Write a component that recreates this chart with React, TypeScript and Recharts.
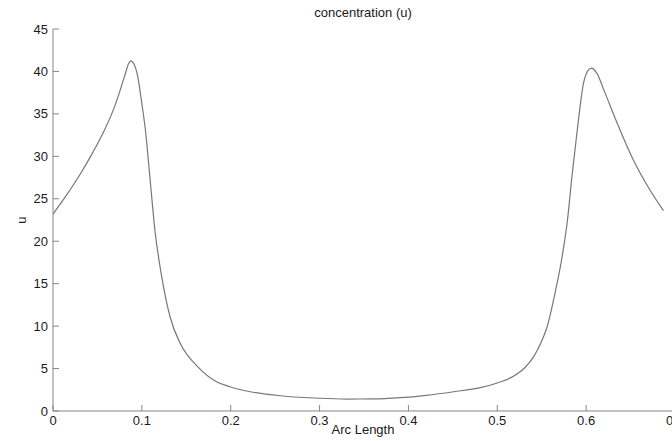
import React from 'react';
import { LineChart, Line, XAxis, YAxis } from 'recharts';

const arcLength = [0, 0.015, 0.03, 0.045, 0.057, 0.068, 0.075, 0.081, 0.085, 0.0875, 0.091, 0.095, 0.1, 0.104, 0.109, 0.1148, 0.1224, 0.1317, 0.143, 0.163, 0.184, 0.199, 0.222, 0.259, 0.3, 0.331, 0.36, 0.391, 0.42, 0.451, 0.481, 0.5, 0.52, 0.531, 0.541, 0.549, 0.556, 0.565, 0.573, 0.579, 0.584, 0.59, 0.597, 0.602, 0.606, 0.612, 0.62, 0.635, 0.653, 0.672, 0.687];
const concentration = [23.2, 25.4, 27.8, 30.5, 32.9, 35.5, 37.6, 39.6, 40.9, 41.25, 40.9, 39.6, 36.2, 33.1, 27.6, 21.2, 15.8, 11.1, 8.0, 5.2, 3.45, 2.86, 2.27, 1.77, 1.5, 1.41, 1.42, 1.57, 1.85, 2.27, 2.75, 3.3, 4.2, 5.1, 6.4, 8.0, 9.9, 13.9, 18.2, 22.5, 27.6, 33.1, 38.6, 40.1, 40.4, 39.8, 37.8, 33.9, 29.6, 26.0, 23.6];
const xTicks = [0, 0.1, 0.2, 0.3, 0.4, 0.5, 0.6, 0.7];
const yTicks = [0, 5, 10, 15, 20, 25, 30, 35, 40, 45];

const data = arcLength.map((x, i) => ({ x, u: concentration[i] }));

const FONT = '"Liberation Sans", Arial, Helvetica, sans-serif';
const AXIS = '#858585';
const TXT = '#1a1a1a';

const XTick = (props: any) => {
  const { x, y, payload } = props;
  return (
    <g>
      <line x1={x} y1={y} x2={x} y2={y - 6} stroke={AXIS} strokeWidth={1} />
      <text x={x} y={y + 14} textAnchor="middle" fontFamily={FONT} fontSize={13} fill={TXT}>
        {String(payload.value)}
      </text>
    </g>
  );
};

const YTick = (props: any) => {
  const { x, y, payload } = props;
  return (
    <g>
      <line x1={x} y1={y} x2={x + 6} y2={y} stroke={AXIS} strokeWidth={1} />
      <text x={x - 5} y={y + 4.5} textAnchor="end" fontFamily={FONT} fontSize={13} fill={TXT}>
        {String(payload.value)}
      </text>
    </g>
  );
};

export default function App() {
  return (
    <div style={{ position: 'fixed', left: 0, top: 0, width: 672, height: 441, overflow: 'hidden', background: '#fff' }}>
      <LineChart width={690} height={441} data={data} margin={{ top: 29, right: 15, bottom: 0, left: 0 }}>
        <XAxis
          dataKey="x"
          type="number"
          domain={[0, 0.7]}
          ticks={xTicks}
          height={30}
          tickSize={0}
          tickMargin={0}
          tickLine={false}
          tick={<XTick />}
          stroke={AXIS}
          interval={0}
          allowDataOverflow
        />
        <YAxis
          type="number"
          domain={[0, 45]}
          ticks={yTicks}
          width={53}
          tickSize={0}
          tickMargin={0}
          tickLine={false}
          tick={<YTick />}
          stroke={AXIS}
          interval={0}
          allowDataOverflow
        />
        <Line
          type="monotone"
          dataKey="u"
          stroke="#777777"
          strokeWidth={1.2}
          dot={false}
          isAnimationActive={false}
        />
      </LineChart>
      <div style={{ position: 'absolute', left: 263, width: 200, top: 5, textAlign: 'center', fontFamily: FONT, fontSize: 13, color: TXT, lineHeight: '16px' }}>
        concentration (u)
      </div>
      <div style={{ position: 'absolute', left: 263, width: 200, top: 422, textAlign: 'center', fontFamily: FONT, fontSize: 13, color: TXT, lineHeight: '16px' }}>
        Arc Length
      </div>
      <div style={{ position: 'absolute', left: 2, width: 40, top: 212, textAlign: 'center', fontFamily: FONT, fontSize: 13, color: TXT, lineHeight: '16px', transform: 'rotate(-90deg)' }}>
        u
      </div>
    </div>
  );
}
